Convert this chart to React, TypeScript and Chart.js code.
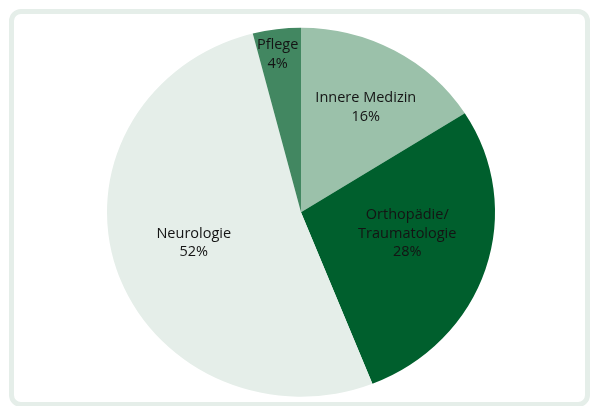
import React, { useEffect, useRef } from "react";
import { Chart, registerables } from "chart.js";

Chart.register(...registerables);

const categories = ["Innere Medizin", "Orthopädie/\nTraumatologie", "Neurologie", "Pflege"];
const values = [16, 28, 52, 4];
const valueLabels = ["16%", "28%", "52%", "4%"];
const colors = ["#9bc1aa", "#005f2d", "#e5eee9", "#428761"];

const STRETCH_X = 1.0515;
const LABEL_RADIUS = [0.66, 0.56, 0.577, 0.865];
const LABEL_ANGLE_SHIFT = [1.6, -6, 1.3, -0.8];

const stretchPlugin = {
  id: "stretch",
  beforeDatasetsDraw(chart: any) {
    const arc = chart.getDatasetMeta(0).data[0];
    if (!arc) return;
    const ctx = chart.ctx;
    ctx.save();
    ctx.translate(arc.x, arc.y);
    ctx.scale(STRETCH_X, 1);
    ctx.translate(-arc.x, -arc.y);
  },
  afterDatasetsDraw(chart: any) {
    chart.ctx.restore();
  },
};

const labelPlugin = {
  id: "sliceLabels",
  afterDraw(chart: any) {
    const ctx = chart.ctx;
    const meta = chart.getDatasetMeta(0);
    ctx.save();
    ctx.font = "14.5px 'Open Sans'";
    ctx.fillStyle = "#141414";
    ctx.textAlign = "center";
    ctx.textBaseline = "middle";
    meta.data.forEach((arc: any, i: number) => {
      const p = arc.getProps(["x", "y", "startAngle", "endAngle", "outerRadius"], true);
      const a = (p.startAngle + p.endAngle) / 2 + (LABEL_ANGLE_SHIFT[i] * Math.PI) / 180;
      const r = p.outerRadius * LABEL_RADIUS[i];
      const cx = p.x + Math.cos(a) * r * STRETCH_X;
      const cy = p.y + Math.sin(a) * r;
      const lines = [...categories[i].split("\n"), valueLabels[i]];
      const lh = 18.5;
      const top = cy - ((lines.length - 1) * lh) / 2;
      lines.forEach((t, k) => ctx.fillText(t, cx, top + k * lh));
    });
    ctx.restore();
  },
};

export default function App() {
  const ref = useRef<HTMLCanvasElement>(null);
  useEffect(() => {
    if (!ref.current) return;
    const chart = new Chart(ref.current, {
      type: "pie",
      data: {
        labels: categories,
        datasets: [
          {
            data: values,
            backgroundColor: colors,
            borderWidth: 0,
          },
        ],
      },
      options: {
        animation: false,
        responsive: false,
        maintainAspectRatio: false,
        layout: { padding: { left: 106, right: 94, top: 27.7, bottom: 9.3 } },
        plugins: {
          legend: { display: false },
          tooltip: { enabled: false },
        },
      },
      plugins: [stretchPlugin, labelPlugin],
    });
    return () => chart.destroy();
  }, []);

  return (
    <div style={{ position: "fixed", left: 0, top: 0, width: 590, height: 406, background: "#fff", overflow: "hidden" }}>
      <div
        style={{
          position: "absolute",
          left: 9,
          top: 9,
          width: 581,
          height: 398,
          boxSizing: "border-box",
          border: "5px solid #e5eee9",
          borderRadius: 12,
        }}
      />
      <canvas ref={ref} width={590} height={406} style={{ position: "absolute", left: 0, top: 0, width: 590, height: 406 }} />
    </div>
  );
}
